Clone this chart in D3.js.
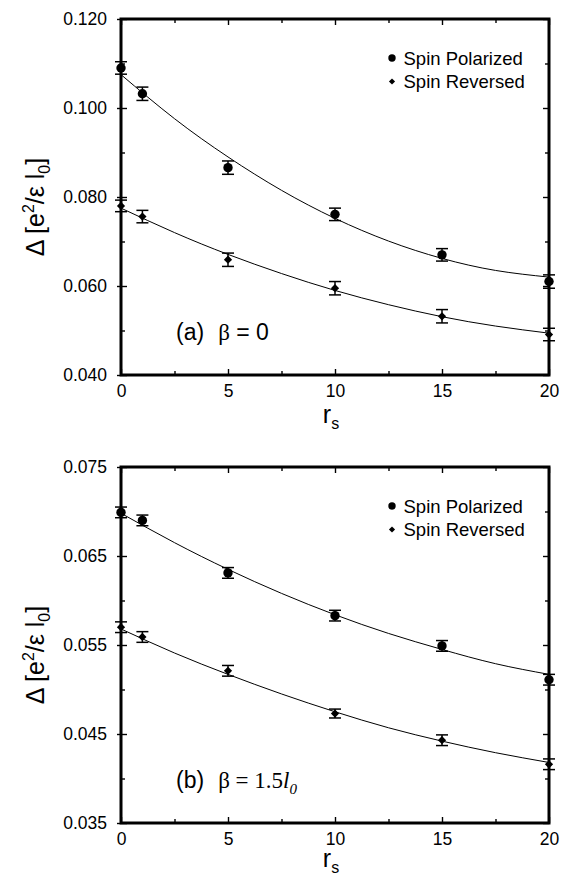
<!DOCTYPE html>
<html>
<head>
<meta charset="utf-8">
<script src="https://cdn.jsdelivr.net/npm/d3@7"></script>
<style>
  html, body { margin: 0; padding: 0; background: #fff; overflow: hidden; }
  svg { display: block; }
  text { font-family: "Liberation Sans", Arial, Helvetica, sans-serif; fill: #000; }
</style>
</head>
<body>
<svg width="561" height="877"></svg>
<script>
const svg = d3.select("svg");

// r_s values of the data points and of the read-off fit curve
const rs = [0, 1, 5, 10, 15, 20];
const fitRs = [0, 2.5, 5, 7.5, 10, 12.5, 15, 17.5, 20];

// panel (a) beta = 0
const polarizedA = [0.1090, 0.1032, 0.0866, 0.0761, 0.0670, 0.0610];
const polarizedErrA = [0.0014, 0.0015, 0.0015, 0.0014, 0.0014, 0.0015];
const reversedA = [0.0780, 0.0756, 0.0659, 0.0595, 0.0532, 0.0491];
const reversedErrA = [0.0013, 0.0014, 0.0015, 0.0015, 0.0015, 0.0014];
const polarizedFitA = [0.1075, 0.0976, 0.0890, 0.0815, 0.0752, 0.0701, 0.0662, 0.0635, 0.0620];
const reversedFitA = [0.0775, 0.0720, 0.0671, 0.0628, 0.0590, 0.0558, 0.0531, 0.0510, 0.0494];

// panel (b) beta = 1.5 l0
const polarizedB = [0.0699, 0.0690, 0.0631, 0.0583, 0.0549, 0.0511];
const polarizedErrB = [0.0006, 0.0006, 0.0006, 0.0006, 0.0006, 0.0006];
const reversedB = [0.0570, 0.0559, 0.0521, 0.0473, 0.0443, 0.0416];
const reversedErrB = [0.0006, 0.0006, 0.0006, 0.0005, 0.0006, 0.0006];
const polarizedFitB = [0.0698, 0.0665, 0.0635, 0.0608, 0.0584, 0.0563, 0.0545, 0.0529, 0.0517];
const reversedFitB = [0.0568, 0.0541, 0.0517, 0.0495, 0.0475, 0.0457, 0.0442, 0.0429, 0.0418];

// ticks
const xTicks = [0, 5, 10, 15, 20];
const xMinor = [2.5, 7.5, 12.5, 17.5];
const yTicksA = [0.040, 0.060, 0.080, 0.100, 0.120];
const yMinorA = [0.050, 0.070, 0.090, 0.110];
const yTicksB = [0.035, 0.045, 0.055, 0.065, 0.075];
const yMinorB = [0.040, 0.050, 0.060, 0.070];

const legendLabels = ["Spin Polarized", "Spin Reversed"];

const left = 121;
const innerWidth = 428;
const innerHeight = 356;

const xScale = d3.scaleLinear().domain([0, 20]).range([0, innerWidth]);

const diamond = (size) => d3.symbol(d3.symbolSquare, size)();

const render = (props) => {
  const { top, yTicks, yMinor, series, label, titleOffset } = props;

  const yScale = d3
    .scaleLinear()
    .domain([yTicks[0], yTicks[yTicks.length - 1]])
    .range([innerHeight, 0]);

  const g = svg.append("g").attr("transform", `translate(${left},${top})`);

  // axes: labelled bottom / left, plain ticks on top / right
  const tickStyle = (sel) => {
    sel.select(".domain").remove();
    sel.selectAll(".tick line").attr("stroke", "#000").attr("stroke-width", 1.4);
    sel.selectAll(".tick text")
      .filter(function () { return !this.textContent; })
      .remove();
    sel.selectAll(".tick text")
      .style("font-size", "17.5px")
      .style("font-family", '"Liberation Sans", Arial, sans-serif')
      .attr("fill", "#000");
  };

  g.append("g")
    .attr("transform", `translate(0,${innerHeight})`)
    .call(d3.axisBottom(xScale).tickValues(xTicks).tickFormat(d3.format("d")).tickSize(-6).tickPadding(10))
    .call(tickStyle);
  g.append("g")
    .attr("transform", `translate(0,${innerHeight})`)
    .call(d3.axisBottom(xScale).tickValues(xMinor).tickFormat("").tickSize(-4))
    .call(tickStyle);
  g.append("g")
    .call(d3.axisTop(xScale).tickValues(xTicks).tickFormat("").tickSize(-6))
    .call(tickStyle);
  g.append("g")
    .call(d3.axisTop(xScale).tickValues(xMinor).tickFormat("").tickSize(-4))
    .call(tickStyle);

  g.append("g")
    .call(d3.axisLeft(yScale).tickValues(yTicks).tickFormat(d3.format(".3f")).tickSize(4).tickPadding(10))
    .call(tickStyle);
  g.append("g")
    .call(d3.axisLeft(yScale).tickValues(yTicks).tickFormat("").tickSize(-6))
    .call(tickStyle);
  g.append("g")
    .call(d3.axisLeft(yScale).tickValues(yMinor).tickFormat("").tickSize(-4))
    .call(tickStyle);
  g.append("g")
    .attr("transform", `translate(${innerWidth},0)`)
    .call(d3.axisRight(yScale).tickValues(yTicks).tickFormat("").tickSize(-6))
    .call(tickStyle);
  g.append("g")
    .attr("transform", `translate(${innerWidth},0)`)
    .call(d3.axisRight(yScale).tickValues(yMinor).tickFormat("").tickSize(-4))
    .call(tickStyle);

  g.append("rect")
    .attr("width", innerWidth)
    .attr("height", innerHeight)
    .attr("fill", "none")
    .attr("stroke", "#000")
    .attr("stroke-width", 3);

  // fit curves
  const line = d3
    .line()
    .x((d) => xScale(d[0]))
    .y((d) => yScale(d[1]))
    .curve(d3.curveNatural);

  series.forEach((s) => {
    g.append("path")
      .datum(fitRs.map((r, i) => [r, s.fit[i]]))
      .attr("d", line)
      .attr("fill", "none")
      .attr("stroke", "#000")
      .attr("stroke-width", 1);

    const pts = rs.map((r, i) => ({ r, v: s.values[i], e: s.err[i] }));

    const bars = g.append("g").attr("stroke", "#000").attr("stroke-width", 1.5);
    bars.selectAll(".v")
      .data(pts)
      .enter()
      .append("line")
      .attr("x1", (d) => xScale(d.r))
      .attr("x2", (d) => xScale(d.r))
      .attr("y1", (d) => yScale(d.v - d.e))
      .attr("y2", (d) => yScale(d.v + d.e));
    [-1, 1].forEach((sign) => {
      bars.selectAll(null)
        .data(pts)
        .enter()
        .append("line")
        .attr("x1", (d) => xScale(d.r) - 6)
        .attr("x2", (d) => xScale(d.r) + 6)
        .attr("y1", (d) => yScale(d.v + sign * d.e))
        .attr("y2", (d) => yScale(d.v + sign * d.e));
    });

    if (s.shape === "circle") {
      g.selectAll(null)
        .data(pts)
        .enter()
        .append("circle")
        .attr("cx", (d) => xScale(d.r))
        .attr("cy", (d) => yScale(d.v))
        .attr("r", 4.7)
        .attr("fill", "#000");
    } else {
      g.selectAll(null)
        .data(pts)
        .enter()
        .append("path")
        .attr("d", diamond(34))
        .attr("transform", (d) => `translate(${xScale(d.r)},${yScale(d.v)}) rotate(45)`)
        .attr("fill", "#000");
    }
  });

  // legend
  const legend = g.append("g").attr("transform", "translate(271,39)");
  legend.append("circle").attr("r", 3.7).attr("fill", "#000");
  legend.append("path")
    .attr("d", diamond(19))
    .attr("transform", "translate(0,23.5) rotate(45)")
    .attr("fill", "#000");
  legend.selectAll(".lbl")
    .data(legendLabels)
    .enter()
    .append("text")
    .attr("x", 11.5)
    .attr("y", (d, i) => 6.5 + i * 23.5)
    .style("font-size", "18.5px")
    .text((d) => d);

  // x axis title r_s
  const xt = g.append("text")
    .attr("x", innerWidth / 2 - 4)
    .attr("y", innerHeight + titleOffset)
    .attr("text-anchor", "middle")
    .style("font-size", "25px");
  xt.append("tspan").text("r");
  xt.append("tspan").attr("dy", 6).style("font-size", "16px").text("s");

  // y axis title
  const yt = svg.append("text")
    .attr("transform", `translate(44,${top + 188}) rotate(-90)`)
    .attr("text-anchor", "middle")
    .style("font-size", "25px");
  yt.append("tspan").text("Δ [e");
  yt.append("tspan").attr("dy", -10).style("font-size", "16px").text("2");
  yt.append("tspan").attr("dy", 10).text("/ε l");
  yt.append("tspan").attr("dy", 6).style("font-size", "16px").text("0");
  yt.append("tspan").attr("dy", -6).text("]");

  // panel annotation
  const ann = g.append("text")
    .attr("x", 55)
    .attr("y", 321)
    .style("font-size", "23px");
  label(ann);
};

render({
  top: 19,
  titleOffset: 48,
  yTicks: yTicksA,
  yMinor: yMinorA,
  series: [
    { values: polarizedA, err: polarizedErrA, fit: polarizedFitA, shape: "circle" },
    { values: reversedA, err: reversedErrA, fit: reversedFitA, shape: "diamond" },
  ],
  label: (t) => {
    t.append("tspan").text("(a)");
    t.append("tspan").attr("dx", 14).style("font-family", '"Liberation Serif", "Times New Roman", serif').text("β");
    t.append("tspan").text(" = 0");
  },
});

render({
  top: 467,
  titleOffset: 44,
  yTicks: yTicksB,
  yMinor: yMinorB,
  series: [
    { values: polarizedB, err: polarizedErrB, fit: polarizedFitB, shape: "circle" },
    { values: reversedB, err: reversedErrB, fit: reversedFitB, shape: "diamond" },
  ],
  label: (t) => {
    const serif = '"Liberation Serif", "Times New Roman", serif';
    t.append("tspan").text("(b)");
    t.append("tspan").attr("dx", 14).style("font-family", serif).text("β = 1.5");
    t.append("tspan").style("font-family", serif).style("font-style", "italic").text("l");
    t.append("tspan").attr("dy", 6).style("font-family", serif).style("font-style", "italic").style("font-size", "15px").text("0");
  },
});
</script>
</body>
</html>
